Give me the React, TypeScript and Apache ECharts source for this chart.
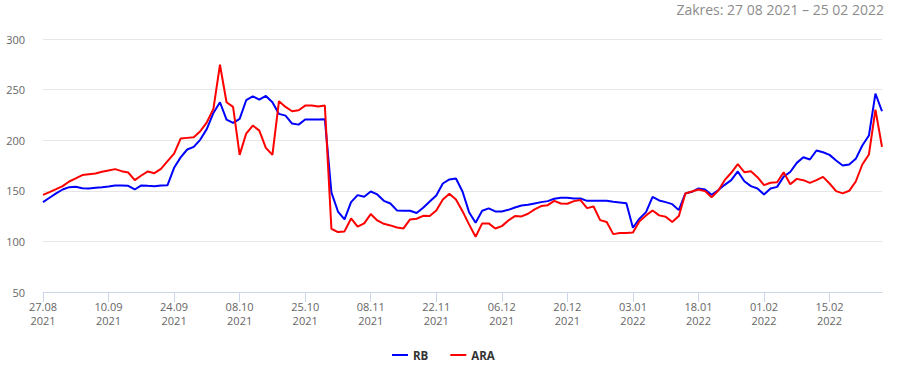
import React, { useEffect, useRef } from "react";
import * as echarts from "echarts";

const dates: string[] = [
  "27.08.2021", "30.08.2021", "31.08.2021", "01.09.2021", "02.09.2021", "03.09.2021", "06.09.2021", "07.09.2021", "08.09.2021", "09.09.2021",
  "10.09.2021", "13.09.2021", "14.09.2021", "15.09.2021", "16.09.2021", "17.09.2021", "20.09.2021", "21.09.2021", "22.09.2021", "23.09.2021",
  "24.09.2021", "27.09.2021", "28.09.2021", "29.09.2021", "30.09.2021", "01.10.2021", "04.10.2021", "05.10.2021", "06.10.2021", "07.10.2021",
  "08.10.2021", "11.10.2021", "12.10.2021", "13.10.2021", "14.10.2021", "15.10.2021", "18.10.2021", "19.10.2021", "20.10.2021", "21.10.2021",
  "25.10.2021", "26.10.2021", "27.10.2021", "28.10.2021", "29.10.2021", "01.11.2021", "02.11.2021", "03.11.2021", "04.11.2021", "05.11.2021",
  "08.11.2021", "09.11.2021", "10.11.2021", "11.11.2021", "12.11.2021", "15.11.2021", "16.11.2021", "17.11.2021", "18.11.2021", "19.11.2021",
  "22.11.2021", "23.11.2021", "24.11.2021", "25.11.2021", "26.11.2021", "29.11.2021", "30.11.2021", "01.12.2021", "02.12.2021", "03.12.2021",
  "06.12.2021", "07.12.2021", "08.12.2021", "09.12.2021", "10.12.2021", "13.12.2021", "14.12.2021", "15.12.2021", "16.12.2021", "17.12.2021",
  "20.12.2021", "21.12.2021", "22.12.2021", "23.12.2021", "24.12.2021", "27.12.2021", "28.12.2021", "29.12.2021", "30.12.2021", "31.12.2021",
  "03.01.2022", "04.01.2022", "05.01.2022", "07.01.2022", "10.01.2022", "11.01.2022", "12.01.2022", "13.01.2022", "14.01.2022", "17.01.2022",
  "18.01.2022", "19.01.2022", "20.01.2022", "21.01.2022", "24.01.2022", "25.01.2022", "26.01.2022", "27.01.2022", "28.01.2022", "31.01.2022",
  "01.02.2022", "02.02.2022", "03.02.2022", "04.02.2022", "07.02.2022", "08.02.2022", "09.02.2022", "10.02.2022", "11.02.2022", "14.02.2022",
  "15.02.2022", "16.02.2022", "17.02.2022", "18.02.2022", "21.02.2022", "22.02.2022", "23.02.2022", "24.02.2022", "25.02.2022",
];

const rbValues: number[] = [
  138.8, 143.1, 147.4, 151.3, 153.6, 153.9, 152.6, 152.3, 153.0, 153.6,
  154.3, 155.3, 155.3, 154.9, 151.3, 155.3, 154.9, 154.6, 155.3, 155.6,
  172.7, 183.0, 190.8, 193.4, 200.6, 211.2, 226.9, 237.5, 220.4, 217.1,
  221.0, 239.5, 243.4, 240.1, 243.7, 237.5, 226.0, 224.3, 216.4, 215.4,
  220.4, 220.4, 220.4, 220.8, 148.4, 129.5, 121.7, 138.8, 145.7, 144.1,
  149.3, 146.4, 140.1, 137.5, 130.6, 130.3, 130.3, 128.0, 133.2, 139.5,
  145.4, 157.2, 161.2, 162.2, 149.3, 128.9, 118.4, 130.3, 132.6, 129.6,
  129.6, 131.2, 133.5, 135.5, 136.2, 137.5, 138.8, 139.8, 142.1, 143.1,
  143.1, 142.4, 142.4, 140.1, 140.1, 140.1, 140.1, 139.1, 138.5, 137.8,
  113.5, 122.5, 128.9, 144.1, 140.5, 138.8, 136.8, 130.9, 147.4, 149.0,
  152.3, 151.3, 146.0, 150.6, 155.9, 160.5, 169.1, 159.5, 154.6, 152.3,
  146.4, 152.3, 153.9, 164.0, 168.6, 177.6, 183.2, 180.9, 189.8, 188.1,
  185.5, 179.9, 175.0, 176.0, 181.6, 194.7, 204.6, 246.0, 228.6,
];

const araValues: number[] = [
  146.0, 148.7, 151.6, 154.6, 159.2, 162.2, 165.5, 166.4, 167.1, 168.8,
  170.1, 171.4, 169.4, 168.1, 160.5, 165.1, 169.1, 167.4, 171.7, 179.3,
  186.8, 201.6, 202.3, 203.0, 208.9, 217.7, 230.9, 274.6, 237.5, 232.9,
  185.5, 206.6, 214.5, 209.5, 192.4, 185.5, 238.5, 232.9, 228.6, 229.6,
  234.2, 234.2, 233.2, 234.2, 112.5, 109.2, 109.9, 122.7, 114.5, 117.8,
  127.0, 120.7, 117.4, 115.8, 113.8, 112.8, 121.7, 122.4, 125.3, 125.0,
  130.6, 141.4, 147.0, 141.4, 129.9, 116.8, 104.6, 117.8, 117.8, 112.8,
  115.1, 120.7, 125.0, 124.7, 127.3, 131.6, 134.9, 135.8, 140.1, 137.5,
  137.2, 139.8, 140.8, 132.9, 134.5, 121.0, 119.1, 107.2, 108.2, 108.2,
  108.7, 120.0, 125.7, 130.6, 125.7, 124.4, 119.1, 125.0, 147.4, 149.3,
  151.3, 149.7, 143.7, 150.0, 160.5, 167.8, 176.3, 168.4, 169.4, 163.5,
  155.6, 157.9, 158.5, 168.4, 156.5, 161.8, 160.5, 157.9, 160.5, 163.8,
  157.2, 149.7, 147.4, 150.0, 159.2, 176.0, 185.8, 230.2, 193.4,
];

const seriesNames: string[] = ["RB", "ARA"];
const yTicks: number[] = [50, 100, 150, 200, 250, 300];
const rangeTitle = "Zakres: 27 08 2021 – 25 02 2022";

const FONT = "'Open Sans', sans-serif";

export default function App() {
  const ref = useRef<HTMLDivElement>(null);

  useEffect(() => {
    if (!ref.current) return;
    document.body.style.margin = "0";
    const chart = echarts.init(ref.current, undefined, { renderer: "svg" });
    chart.setOption({
      animation: false,
      backgroundColor: "#ffffff",
      title: {
        text: rangeTitle,
        right: 18,
        top: 0,
        padding: [2, 0, 0, 0],
        textStyle: { fontFamily: FONT, fontSize: 14, fontWeight: "normal", color: "#8c8c8c" },
      },
      legend: {
        data: seriesNames,
        left: 392,
        top: 349,
        padding: 0,
        icon: "rect",
        itemWidth: 16,
        itemHeight: 2,
        itemGap: 22,
        textStyle: { fontFamily: FONT, fontSize: 11.5, fontWeight: "bold", color: "#333333" },
      },
      grid: { left: 43, right: 20, top: 39, bottom: 78, containLabel: false },
      xAxis: {
        type: "category",
        data: dates,
        boundaryGap: false,
        axisLine: { lineStyle: { color: "#ccd6eb", width: 1 } },
        axisTick: { show: true, interval: 9, length: 10, lineStyle: { color: "#ccd6eb" } },
        axisLabel: {
          interval: 9,
          margin: 7,
          color: "#666666",
          fontFamily: FONT,
          fontSize: 11,
          lineHeight: 14,
          formatter: (v: string) => {
            const p = v.split(".");
            return p[0] + "." + p[1] + "\n" + p[2];
          },
        },
        splitLine: { show: false },
      },
      yAxis: {
        type: "value",
        min: yTicks[0],
        max: yTicks[yTicks.length - 1],
        interval: 50,
        axisLine: { show: false },
        axisTick: { show: false },
        axisLabel: { color: "#666666", fontFamily: FONT, fontSize: 11, margin: 18 },
        splitLine: { lineStyle: { color: "#e6e6e6", width: 1 } },
      },
      series: [
        {
          name: seriesNames[0],
          type: "line",
          data: rbValues,
          showSymbol: false,
          symbol: "none",
          lineStyle: { color: "#0000ff", width: 2 },
          itemStyle: { color: "#0000ff" },
        },
        {
          name: seriesNames[1],
          type: "line",
          data: araValues,
          showSymbol: false,
          symbol: "none",
          lineStyle: { color: "#ff0000", width: 2 },
          itemStyle: { color: "#ff0000" },
        },
      ],
    });
    return () => chart.dispose();
  }, []);

  return (
    <div
      ref={ref}
      style={{ width: 902, height: 370, position: "absolute", left: 0, top: 0 }}
    />
  );
}
